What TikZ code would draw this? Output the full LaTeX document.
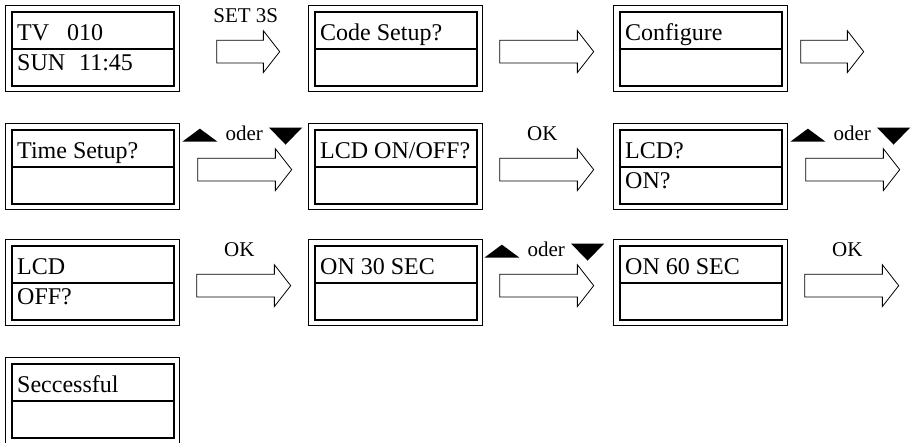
\documentclass[tikz,border=0pt]{standalone}
\usepackage{fontspec}
\setmainfont{Liberation Serif}
\usetikzlibrary{shapes.arrows,positioning}

\tikzset{
  screen/.style={draw, line width=1.3pt, minimum width=174pt, minimum height=86pt,
    inner sep=0pt, anchor=north west,
    path picture={
      \draw[line width=2pt]
        ([shift={(6pt,-6pt)}]path picture bounding box.north west) rectangle
        ([shift={(-6pt,6pt)}]path picture bounding box.south east);
      \draw[line width=1.8pt]
        ([shift={(6pt,-43pt)}]path picture bounding box.north west) --
        ([shift={(-6pt,-43pt)}]path picture bounding box.north east);
    }},
  screentext/.style={anchor=base west, inner sep=0pt, font=\fontsize{24}{28}\selectfont},
  flowarrow/.style={single arrow, draw, line width=0.8pt,
    single arrow head extend=9.5pt, single arrow tip angle=104,
    inner xsep=0pt, inner ysep=11pt, minimum height=94pt, yshift=-3pt},
  keylabel/.style={anchor=base, inner sep=0pt, font=\fontsize{21}{25}\selectfont},
}

\begin{document}
\begin{tikzpicture}[x=1pt,y=-1pt]
\useasboundingbox (0,0) rectangle (916,443);
% LCD screens, first line
\foreach \nm/\x/\y/\one in {tv/5/5/{TV\hspace{18pt}010}, code/308/5/{Code Setup?},
    config/613/5/Configure, time/5/123/{Time Setup?}, lcdonoff/308/123/{LCD ON/OFF?},
    lcdon/613/123/LCD?, lcdoff/5/239/LCD, on30/308/239/{ON 30 SEC},
    on60/613/239/{ON 60 SEC}, done/5/357/Seccessful}{
  \node[screen] (\nm) at (\x,\y) {};
  \node[screentext] (\nm-one) at ([shift={(12pt,-36pt)}]\nm.north west) {\one};
}
% second lines
\foreach \nm/\two in {tv/{SUN\hspace{14pt}11:45}, lcdon/ON?, lcdoff/OFF?}
  \node[screentext] (\nm-two) at ([shift={(12pt,-66pt)}]\nm.north west) {\two};

% block arrows
\node[flowarrow, minimum height=63pt, right=36pt of tv.east] (a1) {};
\node[flowarrow, right=16pt of code.east] (a2) {};
\node[flowarrow, minimum height=63pt, right=12pt of config.east] (a3) {};
\node[flowarrow, right=17pt of time.east] (a4) {};
\node[flowarrow, right=16pt of lcdonoff.east] (a5) {};
\node[flowarrow, right=17pt of lcdon.east] (a6) {};
\node[flowarrow, right=16pt of lcdoff.east] (a7) {};
\node[flowarrow, right=16pt of on30.east] (a8) {};
\node[flowarrow, right=16pt of on60.east] (a9) {};

% key labels
\node[keylabel] (k1) at ([shift={(2pt,29pt)}]a1.center) {SET 3S};
\foreach \a in {5,7,9}
  \node[keylabel] (k\a) at ([yshift=29pt]a\a.center) {OK};
\foreach \a in {4,6,8}{
  \node[keylabel] (k\a) at ([shift={(4pt,29pt)}]a\a.center) {oder};
  \fill ([shift={(-8pt,-1pt)}]k\a.base west) -- ++(-35pt,0pt) -- ++(17.5pt,13pt) -- cycle;
  \fill ([shift={(6pt,13pt)}]k\a.base east) -- ++(33pt,0pt) -- ++(-16.5pt,-17pt) -- cycle;
}
\end{tikzpicture}
\end{document}
